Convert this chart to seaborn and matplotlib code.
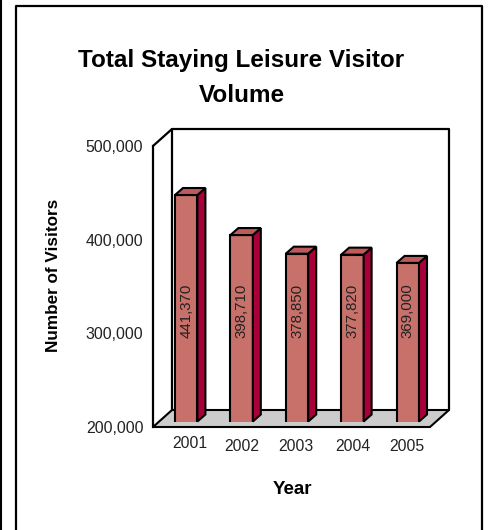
import matplotlib
matplotlib.use("Agg")
import matplotlib.pyplot as plt
import pandas as pd
import seaborn as sns
from matplotlib.patches import Polygon

# data
years = ["2001", "2002", "2003", "2004", "2005"]
visitors = [441370, 398710, 378850, 377820, 369000]
y_ticks = [200000, 300000, 400000, 500000]

# colours
front_col = "#C8706A"
side_col = "#A80038"
top_col = "#BC5A5C"
floor_col = "#CCCCCC"

W, H = 490, 530
sns.set_style("white")
plt.rcParams["font.family"] = ["Liberation Sans", "DejaVu Sans"]

fig = plt.figure(figsize=(W / 100, H / 100), dpi=100, facecolor="white")


def px_axes(left, top, right, bottom, **kw):
    # axes placed with picture pixel coordinates (y going down)
    return fig.add_axes([left / W, 1 - bottom / H, (right - left) / W, (bottom - top) / H], **kw)


# background layer: outer frame and the 3D walls
bg = px_axes(0, 0, W, H)
bg.set_xlim(0, W)
bg.set_ylim(H, 0)
bg.axis("off")
bg.plot([16, 16, 482, 482], [H, 6, 6, H], color="black", lw=1.6)
bg.plot([0.5, 0.5], [0, H], color="black", lw=1.5)
bg.add_patch(Polygon([(153, 427), (172, 410), (449, 410), (430, 427)],
                     facecolor=floor_col, edgecolor="black", lw=1.5))
bg.plot([153, 172, 449, 449], [146, 129, 129, 410], color="black", lw=1.6)
bg.plot([172, 172], [129, 410], color="black", lw=1.6)

# value axis on the front plane
ax = px_axes(153, 146, 430, 427)
ax.patch.set_alpha(0)
ax.set_ylim(200000, 500000)
ax.set_xticks([])
ax.set_yticks(y_ticks)
ax.set_yticklabels([f"{v:,}" for v in y_ticks], fontsize=11.4, color="#222222")
ax.tick_params(axis="y", length=0, pad=7)
for name in ["top", "right", "bottom"]:
    ax.spines[name].set_visible(False)
ax.spines["left"].set_linewidth(1.6)
ax.spines["left"].set_color("black")

# bars sit a little deeper in the box than the front plane
bar_ax = px_axes(158.5, 140, 435.5, 421.5)
bar_ax.patch.set_alpha(0)
df = pd.DataFrame({"year": years, "visitors": visitors})
sns.barplot(data=df, x="year", y="visitors", color=front_col, saturation=1, width=0.405,
            edgecolor="black", linewidth=1.5, ax=bar_ax)
bar_ax.set_xlim(-0.5, 4.5)
bar_ax.set_ylim(200000, 500000)
bar_ax.axis("off")

# depth of the bars in data units
dx = 8 / (277 / 5)
dy = 7 / (281.5 / 300000)
for bar in bar_ax.patches:
    x0, x1 = bar.get_x(), bar.get_x() + bar.get_width()
    top = bar.get_height()
    base = 200000
    bar_ax.add_patch(Polygon([(x1, base), (x1 + dx, base + dy), (x1 + dx, top + dy), (x1, top)],
                             facecolor=side_col, edgecolor="black", lw=1.5, clip_on=False))
    bar_ax.add_patch(Polygon([(x0, top), (x0 + dx, top + dy), (x1 + dx, top + dy), (x1, top)],
                             facecolor=top_col, edgecolor="black", lw=1.5, clip_on=False))

# value labels all sit at the same height, whatever the bar
for i, v in enumerate(visitors):
    bar_ax.text(i, 0.3925, f"{v:,}", transform=bar_ax.get_xaxis_transform(), rotation=90,
                ha="center", va="center", fontsize=10.8, color="#222222", zorder=5)

# year labels, the first one is slightly out of line in the original
offsets = [(4, -22), (0, -25), (-1, -25), (0, -25), (-1, -25)]
for i, year in enumerate(years):
    bar_ax.annotate(year, xy=(i, 0), xycoords=bar_ax.get_xaxis_transform(),
                    xytext=offsets[i], textcoords="offset pixels",
                    ha="center", va="center", fontsize=11.3, color="#222222", annotation_clip=False)

# titles
fig.text(241.5 / W, 1 - 60 / H, "Total Staying Leisure Visitor", ha="center", va="center",
         fontsize=17.5, fontweight="bold", color="black")
fig.text(241.5 / W, 1 - 95 / H, "Volume", ha="center", va="center",
         fontsize=17.5, fontweight="bold", color="black")
fig.text(53 / W, 1 - 275 / H, "Number of Visitors", rotation=90, ha="center", va="center",
         fontsize=12.3, fontweight="bold", color="black")
fig.text(292.5 / W, 1 - 490 / H, "Year", ha="center", va="center",
         fontsize=13.5, fontweight="bold", color="black")

fig.savefig("out.png", dpi=100)
